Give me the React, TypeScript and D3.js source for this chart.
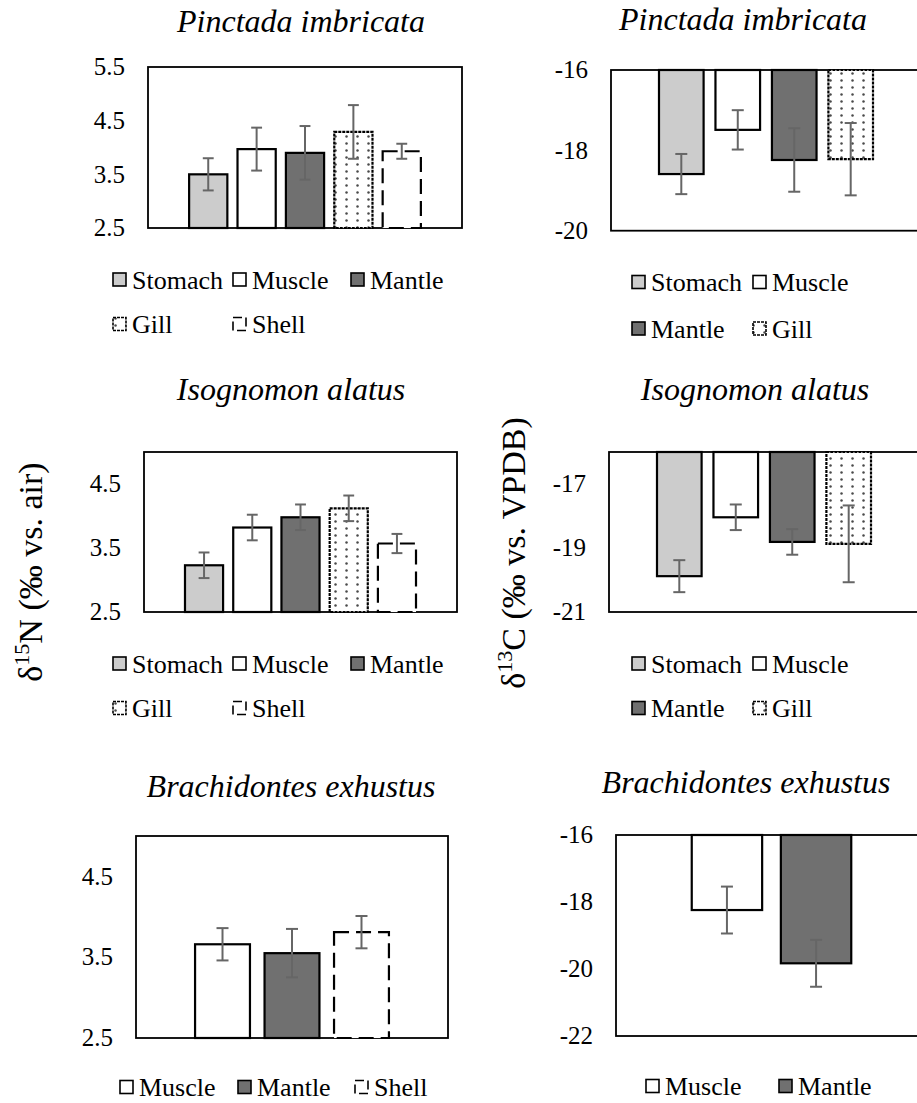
import React from "react";
import * as d3 from "d3";

const FONT = "Liberation Serif, Times New Roman, Tinos, serif";

// Tissue categories
const tissuesN = ["Stomach", "Muscle", "Mantle", "Gill", "Shell"];
const tissuesC = ["Stomach", "Muscle", "Mantle", "Gill"];
const tissuesBrachN = ["Muscle", "Mantle", "Shell"];
const tissuesBrachC = ["Muscle", "Mantle"];

// Pinctada imbricata
const pinctadaN = [3.5, 3.97, 3.9, 4.29, 3.93];
const pinctadaNErr = [0.3, 0.4, 0.5, 0.5, 0.14];
const pinctadaC = [-18.59, -17.49, -18.24, -18.22];
const pinctadaCErr = [0.5, 0.49, 0.79, 0.9];

// Isognomon alatus
const isognomonN = [3.23, 3.82, 3.98, 4.12, 3.57];
const isognomonNErr = [0.2, 0.2, 0.2, 0.2, 0.15];
const isognomonC = [-19.88, -18.04, -18.81, -18.87];
const isognomonCErr = [0.5, 0.4, 0.4, 1.2];

// Brachidontes exhustus
const brachidontesN = [3.66, 3.55, 3.81];
const brachidontesNErr = [0.2, 0.3, 0.2];
const brachidontesC = [-18.24, -19.83];
const brachidontesCErr = [0.7, 0.7];

// Axis tick labels
const ticksPinctadaN = [2.5, 3.5, 4.5, 5.5];
const ticksPinctadaC = [-16, -18, -20];
const ticksIsognomonN = [2.5, 3.5, 4.5];
const ticksIsognomonC = [-17, -19, -21];
const ticksBrachN = [2.5, 3.5, 4.5];
const ticksBrachC = [-16, -18, -20, -22];

const tissueStyle: Record<string, { fill: string; dash?: string }> = {
  Stomach: { fill: "#cccccc" },
  Muscle: { fill: "#ffffff" },
  Mantle: { fill: "#707070" },
  Gill: { fill: "url(#gillDots)", dash: "3 1" },
  Shell: { fill: "#ffffff", dash: "15 7" },
};

type LegendItem = { name: string; x: number };

type PanelSpec = {
  title: string;
  titleX: number;
  titleY: number;
  left: number;
  right: number;
  top: number;
  bottom: number;
  domain: [number, number];
  ticks: number[];
  categories: string[];
  values: number[];
  errors: number[];
  hanging: boolean;
  legend: LegendItem[][];
  legendY: number[];
};

const panels: PanelSpec[] = [
  {
    title: "Pinctada imbricata", titleX: 301, titleY: 32,
    left: 148, right: 462, top: 67, bottom: 228,
    domain: [2.5, 5.5], ticks: ticksPinctadaN,
    categories: tissuesN, values: pinctadaN, errors: pinctadaNErr, hanging: false,
    legend: [
      [{ name: "Stomach", x: 113 }, { name: "Muscle", x: 233 }, { name: "Mantle", x: 351 }],
      [{ name: "Gill", x: 113 }, { name: "Shell", x: 233 }],
    ],
    legendY: [279.5, 324],
  },
  {
    title: "Pinctada imbricata", titleX: 743, titleY: 30,
    left: 611, right: 921, top: 70, bottom: 230.7,
    domain: [-20, -16], ticks: ticksPinctadaC,
    categories: tissuesC, values: pinctadaC, errors: pinctadaCErr, hanging: true,
    legend: [
      [{ name: "Stomach", x: 632 }, { name: "Muscle", x: 753 }],
      [{ name: "Mantle", x: 632 }, { name: "Gill", x: 753 }],
    ],
    legendY: [282, 328.5],
  },
  {
    title: "Isognomon alatus", titleX: 291, titleY: 400,
    left: 144, right: 457, top: 452, bottom: 612,
    domain: [2.5, 5], ticks: ticksIsognomonN,
    categories: tissuesN, values: isognomonN, errors: isognomonNErr, hanging: false,
    legend: [
      [{ name: "Stomach", x: 113 }, { name: "Muscle", x: 233 }, { name: "Mantle", x: 351 }],
      [{ name: "Gill", x: 113 }, { name: "Shell", x: 233 }],
    ],
    legendY: [663.5, 708],
  },
  {
    title: "Isognomon alatus", titleX: 755, titleY: 400,
    left: 609, right: 919, top: 452, bottom: 612,
    domain: [-21, -16], ticks: ticksIsognomonC,
    categories: tissuesC, values: isognomonC, errors: isognomonCErr, hanging: true,
    legend: [
      [{ name: "Stomach", x: 632 }, { name: "Muscle", x: 753 }],
      [{ name: "Mantle", x: 632 }, { name: "Gill", x: 753 }],
    ],
    legendY: [663.5, 708],
  },
  {
    title: "Brachidontes exhustus", titleX: 291, titleY: 797,
    left: 136, right: 448, top: 836, bottom: 1038,
    domain: [2.5, 5], ticks: ticksBrachN,
    categories: tissuesBrachN, values: brachidontesN, errors: brachidontesNErr, hanging: false,
    legend: [[{ name: "Muscle", x: 120 }, { name: "Mantle", x: 238 }, { name: "Shell", x: 355 }]],
    legendY: [1087],
  },
  {
    title: "Brachidontes exhustus", titleX: 746, titleY: 793,
    left: 616, right: 927, top: 835, bottom: 1036,
    domain: [-22, -16], ticks: ticksBrachC,
    categories: tissuesBrachC, values: brachidontesC, errors: brachidontesCErr, hanging: true,
    legend: [[{ name: "Muscle", x: 646 }, { name: "Mantle", x: 779 }]],
    legendY: [1086],
  },
];

const ERR_COLOR = "#666666";

function Panel({ p }: { p: PanelSpec }) {
  const y = d3.scaleLinear().domain(p.domain).range([p.bottom, p.top]);
  const x = d3
    .scaleBand<string>()
    .domain(p.categories)
    .range([p.left, p.right])
    .paddingInner(0.21)
    .paddingOuter(0.85);
  const base = p.hanging ? p.domain[1] : p.domain[0];
  const cap = Math.min(6, x.bandwidth() * 0.09 + 2);

  return (
    <g>
      <text
        x={p.titleX}
        y={p.titleY}
        textAnchor="middle"
        style={{ fontFamily: FONT, fontStyle: "italic", fontSize: 32 }}
        fill="#000"
      >
        {p.title}
      </text>

      {/* plot frame */}
      <rect
        x={p.left}
        y={p.top}
        width={p.right - p.left}
        height={p.bottom - p.top}
        fill="#fff"
        stroke="#000"
        strokeWidth={1.8}
      />

      {/* tick labels */}
      {p.ticks.map((t) => (
        <text
          key={t}
          x={p.left - 23}
          y={y(t)}
          dy="0.33em"
          textAnchor="end"
          style={{ fontFamily: FONT, fontSize: 25 }}
          fill="#000"
        >
          {String(t)}
        </text>
      ))}

      {/* bars */}
      {p.categories.map((c, i) => {
        const v = p.values[i];
        const y0 = Math.min(y(base), y(v));
        const h = Math.abs(y(base) - y(v));
        const st = tissueStyle[c];
        return (
          <rect
            key={c}
            x={x(c)}
            y={y0}
            width={x.bandwidth()}
            height={h}
            fill={st.fill}
            stroke="#000"
            strokeWidth={2.2}
            strokeDasharray={st.dash}
          />
        );
      })}

      {/* error bars */}
      {p.categories.map((c, i) => {
        const v = p.values[i];
        const e = p.errors[i];
        const cx = (x(c) as number) + x.bandwidth() / 2;
        const yt = y(v + e);
        const yb = y(v - e);
        return (
          <g key={c} stroke={ERR_COLOR} strokeWidth={2}>
            <line x1={cx} x2={cx} y1={yt} y2={yb} />
            <line x1={cx - cap} x2={cx + cap} y1={yt} y2={yt} />
            <line x1={cx - cap} x2={cx + cap} y1={yb} y2={yb} />
          </g>
        );
      })}

      {/* legend */}
      {p.legend.map((row, ri) =>
        row.map((it) => {
          const st = tissueStyle[it.name];
          const cy = p.legendY[ri];
          return (
            <g key={it.name}>
              <rect
                x={it.x}
                y={cy - 6.5}
                width={13}
                height={13}
                fill={st.fill}
                stroke="#000"
                strokeWidth={1.6}
                strokeDasharray={it.name === "Shell" ? "9 4" : it.name === "Gill" ? "3 1" : undefined}
              />
              <text
                x={it.x + 19}
                y={cy + 9}
                style={{ fontFamily: FONT, fontSize: 26 }}
                fill="#000"
              >
                {it.name}
              </text>
            </g>
          );
        })
      )}
    </g>
  );
}

export default function App() {
  return (
    <svg
      width={917}
      height={1103}
      viewBox="0 0 917 1103"
      style={{ position: "absolute", left: 0, top: 0, background: "#fff" }}
    >
      <defs>
        <pattern id="gillDots" width={11} height={7} patternUnits="userSpaceOnUse">
          <rect width={11} height={7} fill="#fff" />
          <circle cx={5.5} cy={3.5} r={1.25} fill="#4a4a4a" />
        </pattern>
      </defs>
      <rect width={917} height={1103} fill="#fff" />

      {panels.map((p, i) => (
        <Panel key={i} p={p} />
      ))}

      {/* shared y-axis titles */}
      <text
        transform="translate(42,572) rotate(-90)"
        textAnchor="middle"
        style={{ fontFamily: FONT, fontSize: 34 }}
        fill="#000"
      >
        δ
        <tspan style={{ fontSize: 22 }} dy={-13}>15</tspan>
        <tspan dy={13}>N (‰ vs. air)</tspan>
      </text>
      <text
        transform="translate(525,553) rotate(-90)"
        textAnchor="middle"
        style={{ fontFamily: FONT, fontSize: 34 }}
        fill="#000"
      >
        δ
        <tspan style={{ fontSize: 22 }} dy={-13}>13</tspan>
        <tspan dy={13}>C (‰ vs. VPDB)</tspan>
      </text>
    </svg>
  );
}
